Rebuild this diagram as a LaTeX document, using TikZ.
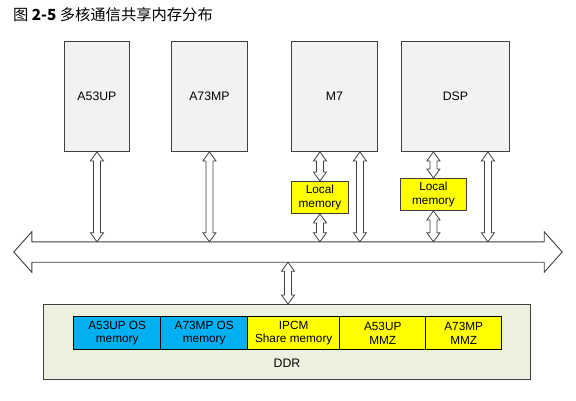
\documentclass[tikz,border=0pt]{standalone}
\usepackage{fontspec}
\setmainfont{Liberation Sans}
\newfontfamily\cjk{Noto Sans CJK SC}
\usetikzlibrary{calc}
\definecolor{boxgray}{HTML}{F2F2F2}
\definecolor{edgegray}{HTML}{404040}
\definecolor{memyellow}{HTML}{FFFF00}
\definecolor{memblue}{HTML}{00B0F0}
\definecolor{ddrfill}{HTML}{EBF1DE}
\newcommand\vdbl[2]{%
  \draw[arr] let \p1=#1, \p2=#2 in
    (\x1,\y1) -- (\x1+6.5pt,\y1-9pt) -- (\x1+3.5pt,\y1-9pt) -- (\x1+3.5pt,\y2+9pt)
    -- (\x1+6.5pt,\y2+9pt) -- (\x1,\y2) -- (\x1-6.5pt,\y2+9pt) -- (\x1-3.5pt,\y2+9pt)
    -- (\x1-3.5pt,\y1-9pt) -- (\x1-6.5pt,\y1-9pt) -- cycle;}
\begin{document}
\begin{tikzpicture}[x=1pt,y=-1pt,
  font=\fontsize{12.3}{14}\selectfont,
  cpu/.style={draw=edgegray, line width=0.9pt, fill=boxgray, anchor=north west,
    inner sep=0pt, minimum width=#1, minimum height=110pt},
  localmem/.style={draw=edgegray, line width=0.9pt, fill=memyellow, anchor=north west,
    inner sep=0pt, minimum width=#1, minimum height=32pt, align=center,
    font=\fontsize{11.8}{13.5}\selectfont},
  blk/.style={draw=black, line width=1.4pt, fill=#1, anchor=north west, inner sep=0pt,
    minimum height=33pt, align=center, font=\fontsize{11.8}{13.5}\selectfont},
  arr/.style={draw=edgegray, line width=0.8pt, fill=white, line join=miter},
]
\useasboundingbox (0,0) rectangle (576,400);
\node[anchor=west, inner sep=0pt, font=\fontsize{15.3}{17}\selectfont\cjk] (title) at (13,15)
  {图 \textbf{2-5} 多核通信共享内存分布};

% processors
\node[cpu=65pt] (a53) at (64,41) {A53UP};
\node[cpu=76pt] (a73) at (171,41) {A73MP};
\node[cpu=86pt] (m7) at (291,41) {M7};
\node[cpu=108pt] (dsp) at (401,41) {DSP};

% local memories
\node[localmem=57pt] (lm7) at (291,181) {Local\\memory};
\node[localmem=66pt] (ldsp) at (400,178) {Local\\memory};

% DDR
\node[draw=edgegray, line width=0.9pt, fill=ddrfill, anchor=north west, inner sep=0pt,
  minimum width=487pt, minimum height=75pt] (ddr) at (43,304) {};
\node (ddrlabel) at (287,363) {DDR};
\node[blk=memblue, minimum width=87pt] (m1) at (73,316) {A53UP OS\\memory};
\node[blk=memblue, minimum width=87pt] (m2) at (160,316) {A73MP OS\\memory};
\node[blk=memyellow, minimum width=92pt] (m3) at (247,316) {IPCM\\Share memory};
\node[blk=memyellow, minimum width=86pt] (m4) at (339,316) {A53UP\\MMZ};
\node[blk=memyellow, minimum width=76pt] (m5) at (425,316) {A73MP\\MMZ};

% bus
\node[inner sep=0pt, minimum width=512pt, minimum height=20pt] (bus) at (288,252) {};
\draw[arr, line width=0.9pt] (bus.north west) -- (bus.north east) -- ++(0,-10)
  -- ($(bus.east)+(18,0)$) -- ($(bus.south east)+(0,10)$) -- (bus.south east)
  -- (bus.south west) -- ++(0,10) -- ($(bus.west)+(-18,0)$)
  -- ($(bus.north west)+(0,-10)$) -- cycle;

% connectors
\vdbl{(a53.south)}{(a53.south |- bus.north)}
\vdbl{(a73.south)}{(a73.south |- bus.north)}
\vdbl{(lm7.north |- m7.south)}{(lm7.north)}
\vdbl{(lm7.south)}{(lm7.south |- bus.north)}
\coordinate (m7r) at ($(m7.south east)+(-18,0)$);
\vdbl{(m7r)}{(m7r |- bus.north)}
\vdbl{(ldsp.north |- dsp.south)}{(ldsp.north)}
\vdbl{(ldsp.south)}{(ldsp.south |- bus.north)}
\coordinate (dspr) at ($(dsp.south east)+(-22,0)$);
\vdbl{(dspr)}{(dspr |- bus.north)}
\vdbl{(bus.south)}{(bus.south |- ddr.north)}
\end{tikzpicture}
\end{document}
